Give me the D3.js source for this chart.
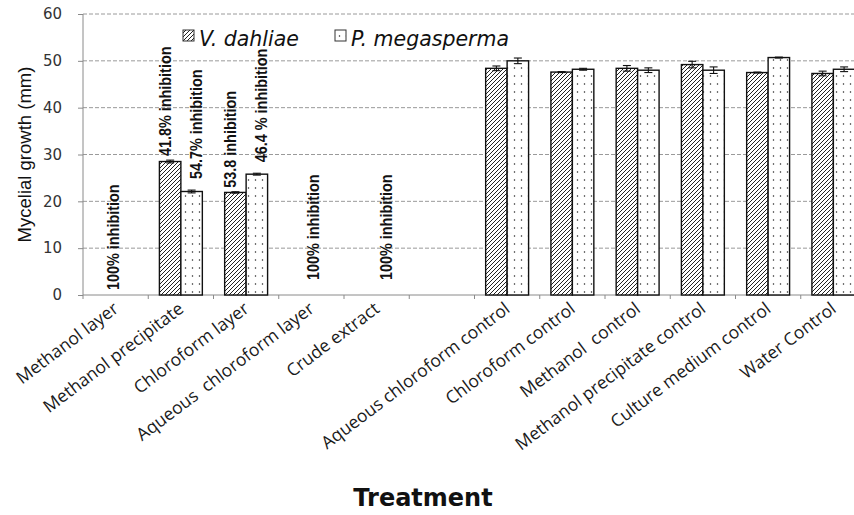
<!DOCTYPE html>
<html>
<head>
<meta charset="utf-8">
<script src="https://cdn.jsdelivr.net/npm/d3@7"></script>
<style>
  body { margin: 0; background: #fff; }
  svg { display: block; }
</style>
</head>
<body>
<div id="chart"></div>
<script>
// datos (mm)
const categories = [
  "Methanol layer", "Methanol precipitate", "Chloroform layer",
  "Aqueous  chloroform layer", "Crude extract", "",
  "Aqueous chloroform control", "Chloroform control", "Methanol  control",
  "Methanol precipitate control", "Culture medium control", "Water Control"
];
const seriesNames = ["V. dahliae", "P. megasperma"];
const vDahliae = [0, 28.5, 21.9, 0, 0, null, 48.4, 47.6, 48.4, 49.2, 47.5, 47.3];
const vDahliaeErr = [0, 0.3, 0.15, 0, 0, null, 0.5, 0.1, 0.6, 0.7, 0.1, 0.5];
const pMegasperma = [0, 22.1, 25.8, 0, 0, null, 50.0, 48.2, 48.0, 48.0, 50.7, 48.2];
const pMegaspermaErr = [0, 0.3, 0.2, 0, 0, null, 0.6, 0.2, 0.5, 0.7, 0.1, 0.5];
const yTicks = [0, 10, 20, 30, 40, 50, 60];

// etiquetas de inhibicion: categoria, serie (-1 = centro de la categoria), texto
const inhibCats = [0, 1, 1, 2, 2, 3, 4];
const inhibSeries = [-1, 0, 1, 0, 1, -1, -1];
const inhibText = [
  "100% inhibition", "41.8% inhibition", "54.7% inhibition",
  "53.8 inhibition", "46.4 % inhibition", "100% inhibition", "100% inhibition"
];

const width = 854, height = 515;
const margin = { top: 14, left: 83, bottom: 220 };
const plotBottom = height - margin.bottom; // y del cero
const plotRight = 866; // el grafico original esta recortado a la derecha

const svg = d3.select("#chart").append("svg")
  .attr("width", width).attr("height", height)
  .style("font-family", "'Open Sans', sans-serif");

const defs = svg.append("defs");
const hatch = defs.append("pattern")
  .attr("id", "hatch").attr("patternUnits", "userSpaceOnUse")
  .attr("width", 4).attr("height", 4);
hatch.append("rect").attr("width", 4).attr("height", 4).attr("fill", "#fff");
hatch.append("path")
  .attr("d", "M-1,1 l2,-2 M0,4 l4,-4 M3,5 l2,-2")
  .attr("stroke", "#222").attr("stroke-width", 1);

const dots = defs.append("pattern")
  .attr("id", "dots").attr("patternUnits", "userSpaceOnUse")
  .attr("width", 7).attr("height", 8);
dots.append("rect").attr("width", 7).attr("height", 8).attr("fill", "#fff");
dots.append("circle").attr("cx", 3.5).attr("cy", 4).attr("r", 0.75).attr("fill", "#222");

const fills = ["url(#hatch)", "url(#dots)"];

const x = d3.scaleBand()
  .domain(categories)
  .range([margin.left, plotRight])
  .padding(0);

const x1 = d3.scaleBand()
  .domain([0, 1])
  .range([0, x.bandwidth()])
  .paddingOuter(0.52)
  .paddingInner(0);

const y = d3.scaleLinear()
  .domain([0, 60])
  .range([plotBottom, margin.top]);

// rejilla
svg.append("g")
  .selectAll("line")
  .data(yTicks.filter(d => d > 0))
  .join("line")
  .attr("x1", margin.left).attr("x2", plotRight)
  .attr("y1", d => y(d)).attr("y2", d => y(d))
  .attr("stroke", "#9a9a9a")
  .attr("stroke-dasharray", "4,2");

// eje y
const yAxis = svg.append("g")
  .attr("transform", `translate(${margin.left},0)`)
  .call(d3.axisLeft(y).tickValues(yTicks).tickSize(5).tickPadding(16).tickSizeOuter(0));
yAxis.select(".domain").attr("stroke", "#8a8a8a").attr("d", `M0,${y(60)}V${y(0) + 4}`);
yAxis.selectAll(".tick line").attr("stroke", "#8a8a8a");
yAxis.selectAll("text")
  .attr("font-family", "'DejaVu Sans', sans-serif")
  .attr("font-size", 15)
  .attr("fill", "#333");

// eje x
const xAxis = svg.append("g")
  .attr("transform", `translate(0,${plotBottom})`)
  .call(d3.axisBottom(x).tickSize(0).tickPadding(0));
xAxis.select(".domain").attr("stroke", "#8a8a8a").attr("d", `M${margin.left},0H${plotRight}`);
xAxis.selectAll(".tick text").remove();
xAxis.selectAll("line.sep")
  .data(categories.slice(1))
  .join("line")
  .attr("class", "sep")
  .attr("x1", d => x(d)).attr("x2", d => x(d))
  .attr("y1", 0).attr("y2", 4)
  .attr("stroke", "#8a8a8a");

svg.append("g")
  .selectAll("text")
  .data(categories)
  .join("text")
  .attr("transform", d => `translate(${x(d) + x.bandwidth() / 2 + 4},${plotBottom + 16}) rotate(-37)`)
  .attr("text-anchor", "end")
  .attr("font-size", 17.5)
  .attr("fill", "#1a1a1a")
  .style("white-space", "pre")
  .text(d => d);

// barras
const rows = [];
categories.forEach((c, i) => {
  [vDahliae, pMegasperma].forEach((arr, s) => {
    const err = s === 0 ? vDahliaeErr : pMegaspermaErr;
    if (arr[i] > 0) rows.push({ cat: c, s, v: arr[i], e: err[i] });
  });
});

const bars = svg.append("g");
bars.selectAll("rect")
  .data(rows)
  .join("rect")
  .attr("x", d => x(d.cat) + x1(d.s))
  .attr("y", d => y(d.v))
  .attr("width", x1.bandwidth())
  .attr("height", d => y(0) - y(d.v))
  .attr("fill", d => fills[d.s])
  .attr("stroke", "#111")
  .attr("stroke-width", 1.4);

// barras de error
const eb = svg.append("g").attr("stroke", "#111").attr("stroke-width", 1.1);
rows.forEach(d => {
  const cx = x(d.cat) + x1(d.s) + x1.bandwidth() / 2;
  eb.append("line").attr("x1", cx).attr("x2", cx).attr("y1", y(d.v + d.e)).attr("y2", y(d.v - d.e));
  [d.v + d.e, d.v - d.e].forEach(v => {
    eb.append("line").attr("x1", cx - 4).attr("x2", cx + 4).attr("y1", y(v)).attr("y2", y(v));
  });
});

// etiquetas de inhibicion (texto condensado)
svg.append("g")
  .selectAll("text")
  .data(inhibText.map((t, i) => ({ t, c: inhibCats[i], s: inhibSeries[i] })))
  .join("text")
  .attr("transform", d => {
    const cat = categories[d.c];
    let cx, base;
    if (d.s < 0) {
      cx = x(cat) + x.bandwidth() / 2 + (d.c === 4 ? 10 : d.c === 3 ? 2 : -2);
      base = y(0) - (d.c === 0 ? 5 : 15);
    } else {
      const arr = d.s === 0 ? vDahliae : pMegasperma;
      const err = d.s === 0 ? vDahliaeErr : pMegaspermaErr;
      cx = x(cat) + x1(d.s) + x1.bandwidth() / 2 + (d.s === 0 ? -4.5 : 4.5);
      base = y(arr[d.c] + err[d.c]) - (d.s === 0 ? 4 : 11);
    }
    return `translate(${cx},${base}) rotate(-90) scale(0.9,1)`;
  })
  .attr("dy", "0.35em")
  .attr("font-family", "'Liberation Sans', sans-serif")
  .attr("font-weight", "bold")
  .attr("font-size", 16)
  .attr("fill", "#111")
  .text(d => d.t);

// leyenda
const legend = svg.append("g");
const legendX = [183, 335];
seriesNames.forEach((n, i) => {
  legend.append("rect")
    .attr("x", legendX[i]).attr("y", 30)
    .attr("width", 11).attr("height", 11)
    .attr("fill", fills[i])
    .attr("stroke", "#333").attr("stroke-width", 1);
  legend.append("text")
    .attr("x", legendX[i] + 16).attr("y", 46)
    .attr("font-family", "'DejaVu Sans', sans-serif")
    .attr("font-style", "italic")
    .attr("font-size", 20.5)
    .attr("fill", "#111")
    .text(n);
});

// titulos de ejes
svg.append("text")
  .attr("transform", `translate(31,${(y(0) + y(60)) / 2}) rotate(-90)`)
  .attr("text-anchor", "middle")
  .attr("font-family", "'Liberation Sans', sans-serif")
  .attr("font-size", 18.5)
  .attr("fill", "#111")
  .text("Mycelial growth (mm)");

svg.append("text")
  .attr("x", 423).attr("y", 506)
  .attr("text-anchor", "middle")
  .attr("font-family", "'DejaVu Sans', sans-serif")
  .attr("font-weight", "bold")
  .attr("font-size", 24)
  .attr("fill", "#111")
  .text("Treatment");
</script>
</body>
</html>
